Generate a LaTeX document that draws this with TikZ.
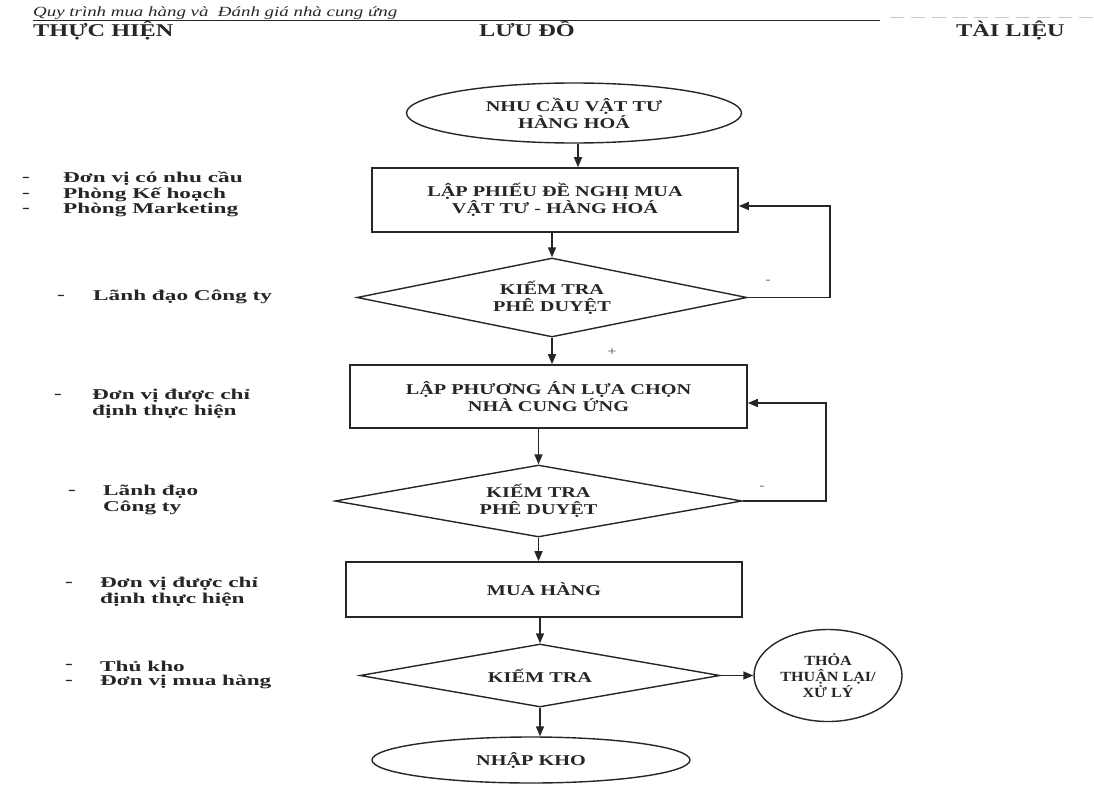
\documentclass[tikz,border=0pt]{standalone}
\usepackage{fontspec}
\setmainfont{Liberation Serif}[FakeStretch=1.35]
\newfontfamily\lblfamily{Liberation Serif}[FakeStretch=1.55]
\newfontfamily\narrowfamily{Liberation Serif}[FakeStretch=1.15]
\usetikzlibrary{shapes.geometric,arrows.meta,calc}
\definecolor{ink}{HTML}{262626}
\newcommand\boxf{\bfseries\fontsize{15}{17}\selectfont}
\newcommand\smallboxf{\narrowfamily\bfseries\fontsize{14}{16}\selectfont}
\newcommand\lblf{\lblfamily\bfseries\fontsize{15}{16.5}\selectfont}
\newcommand\hdrf{\bfseries\fontsize{18}{20}\selectfont}
\begin{document}
\begin{tikzpicture}[x=1pt,y=-1pt,
  every node/.style={text=ink},
  proc/.style={draw=ink, line width=1.6pt, rectangle, inner sep=0pt, align=center, font=\boxf},
  dec/.style={draw=ink, line width=1.4pt, diamond, inner sep=0pt, align=center, font=\boxf},
  term/.style={draw=ink, line width=1.4pt, ellipse, inner sep=0pt, align=center, font=\boxf},
  arr/.style={draw=ink, line width=1.6pt, -{Triangle[length=10pt,width=8pt]}},
  lbl/.style={anchor=west, inner sep=0pt, font=\lblf, align=left},
  hdr/.style={inner sep=0pt, font=\hdrf},
  smallmk/.style={inner sep=0pt, text=black!55, font=\bfseries\fontsize{12}{12}\selectfont},
]
\useasboundingbox (0,0) rectangle (1094,784);

% header
\node[anchor=base west, inner sep=0pt, font=\itshape\fontsize{14}{16}\selectfont] (title) at (33,17) {Quy trình mua hàng và\ \ Đánh giá nhà cung ứng};
\draw[ink, line width=1.2pt] (33,20.5) -- (880,20.5);
\draw[black!22, line width=1pt, dash pattern=on 14pt off 7pt] (890,18) -- (1094,18);
\node[hdr, anchor=base west] (h1) at (33,37) {THỰC HIỆN};
\node[hdr, anchor=base] (h2) at (527,37) {LƯU ĐỒ};
\node[hdr, anchor=base east] (h3) at (1065,37) {TÀI LIỆU};

% flow
\node[term, minimum width=335pt, minimum height=60pt] (e1) at (574,113) {NHU CẦU VẬT TƯ\\HÀNG HOÁ};
\node[proc, minimum width=366pt, minimum height=64pt] (r1) at (555,200) {LẬP PHIẾU ĐỀ NGHỊ MUA\\VẬT TƯ - HÀNG HOÁ};
\node[dec, shape aspect=4.94, minimum width=390pt, minimum height=79pt] (d1) at (552,297.5) {KIẾM TRA\\PHÊ DUYỆT};
\node[proc, minimum width=397pt, minimum height=63pt] (r2) at (548.5,396.5) {LẬP PHƯƠNG ÁN LỰA CHỌN\\NHÀ CUNG ỨNG};
\node[dec, shape aspect=5.65, minimum width=407pt, minimum height=72pt] (d2) at (538.5,501) {KIẾM TRA\\PHÊ DUYỆT};
\node[proc, minimum width=396pt, minimum height=55pt] (r3) at (544,589.5) {MUA HÀNG};
\node[dec, shape aspect=5.71, minimum width=360pt, minimum height=63pt] (d3) at (540,675.5) {KIẾM TRA};
\node[term, font=\smallboxf, minimum width=148pt, minimum height=92pt] (e2) at (828,675.5) {THỎA\\THUẬN LẠI/\\XỬ LÝ};
\node[term, minimum width=318pt, minimum height=46pt] (e3) at (531,760) {NHẬP KHO};

\draw[arr] ([xshift=4pt]e1.south) -- ([xshift=4pt]e1.south |- r1.north);
\draw[arr] (d1.north |- r1.south) -- (d1.north);
\draw[arr] (d1.east) -- ++(82,0) |- ([yshift=-6pt]r1.east);
\draw[arr] (d1.south) -- (d1.south |- r2.north);
\draw[arr] (d2.north |- r2.south) -- (d2.north);
\draw[arr] (d2.east) -- ++(83,0) |- ([yshift=-6.5pt]r2.east);
\draw[arr] (d2.south) -- (d2.south |- r3.north);
\draw[arr] (d3.north |- r3.south) -- (d3.north);
\draw[arr] (d3.east) -- (e2.west);
\draw[arr] (d3.south) -- (d3.south |- e3.north);

% small marks
\node[smallmk] (m1) at (768,282) {-};
\node[smallmk] (m2) at (612,352) {+};
\node[smallmk] (m3) at (762,488) {-};

% left column
\node[lbl] (a0) at (22,179) {-};
\node[lbl] (a1) at (63,179) {Đơn vị có nhu cầu};
\node[lbl] (b0) at (22,195) {-};
\node[lbl] (b1) at (63,195) {Phòng Kế hoạch};
\node[lbl] (c0) at (22,210) {-};
\node[lbl] (c1) at (63,210) {Phòng Marketing};

\node[lbl] (d0) at (57,297) {-};
\node[lbl] (dd1) at (93,297) {Lãnh đạo Công ty};

\node[lbl] (f0) at (54,396) {-};
\node[lbl] (f1) at (92,404) {Đơn vị được chỉ\\định thực hiện};

\node[lbl] (g0) at (68,492) {-};
\node[lbl] (g1) at (103,500) {Lãnh đạo\\Công ty};

\node[lbl] (k0) at (65,584) {-};
\node[lbl] (k1) at (100,592) {Đơn vị được chỉ\\định thực hiện};

\node[lbl] (n0) at (65,666) {-};
\node[lbl] (n1) at (100,666) {Thủ kho};
\node[lbl] (p0) at (65,682) {-};
\node[lbl] (p1) at (100,682) {Đơn vị mua hàng};
\end{tikzpicture}
\end{document}
